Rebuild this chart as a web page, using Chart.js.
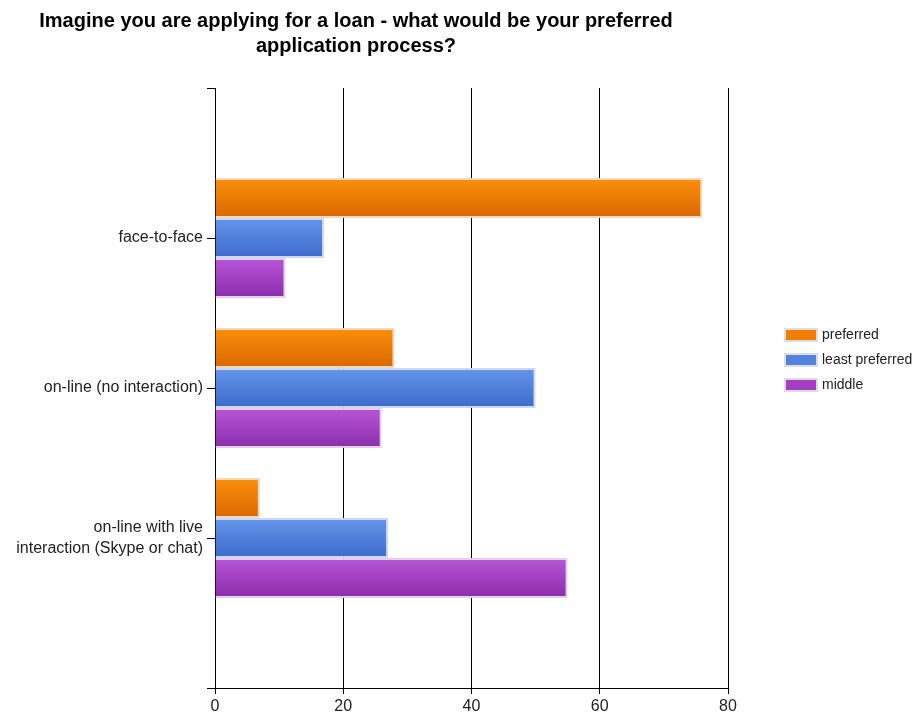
<!DOCTYPE html>
<html>
<head>
<meta charset="utf-8">
<title>Loan application process</title>
<script src="https://cdn.jsdelivr.net/npm/chart.js@4/dist/chart.umd.min.js"></script>
<style>
  html, body { margin: 0; padding: 0; background: #fff; }
  #wrap { width: 914px; height: 717px; }
</style>
</head>
<body>
<div id="wrap"><canvas id="myChart" width="914" height="717"></canvas></div>
<script>
// Preferred loan application process, survey answers per option

const titleLines = [
  "Imagine you are applying for a loan - what would be your preferred",
  "application process?",
];
const categories = [
  "face-to-face",
  "on-line (no interaction)",
  ["on-line with live", "interaction (Skype or chat)"],
];
const preferred = [76, 28, 7];
const leastPreferred = [17, 50, 27];
const middle = [11, 26, 55];
const xTicks = [0, 20, 40, 60, 80];

// empty slots above and below so the groups sit on quarter lines
const labels = [""].concat(categories, [""]);
const pad = (arr) => [null].concat(arr, [null]);

const FONT = "'Liberation Sans', Arial, sans-serif";

function vGradient(top, bottom) {
  return (context) => {
    const chart = context.chart;
    const el = context.element;
    if (!el || !chart.chartArea || el.y === undefined || !el.height) return top;
    const g = chart.ctx.createLinearGradient(0, el.y - el.height / 2, 0, el.y + el.height / 2);
    g.addColorStop(0, top);
    g.addColorStop(1, bottom);
    return g;
  };
}

const series = [
  { label: "preferred", data: preferred, top: "#fc8f0c", bottom: "#d96800", edge: "rgba(240,215,190,0.95)", swatch: "#f07e00" },
  { label: "least preferred", data: leastPreferred, top: "#6595eb", bottom: "#3c6bcc", edge: "rgba(205,215,235,0.95)", swatch: "#5282dd" },
  { label: "middle", data: middle, top: "#b855d8", bottom: "#8a2eab", edge: "rgba(225,205,232,0.95)", swatch: "#a43fc4" },
];

const datasets = series.map((s) => ({
  label: s.label,
  data: pad(s.data),
  backgroundColor: vGradient(s.top, s.bottom),
  borderColor: s.edge,
  borderWidth: 2,
  swatch: s.swatch,
  categoryPercentage: 0.8,
  barPercentage: 1.0,
}));

// title centred over the left part, the way the old chart had it
const titlePlugin = {
  id: "topTitle",
  afterDraw(chart) {
    const ctx = chart.ctx;
    ctx.save();
    ctx.fillStyle = "#000";
    ctx.font = "bold 20px " + FONT;
    ctx.textAlign = "center";
    ctx.textBaseline = "middle";
    titleLines.forEach((t, i) => ctx.fillText(t, 356, 21 + i * 25));
    ctx.restore();
  },
};

// legend to the right of the plot
const legendPlugin = {
  id: "sideLegend",
  afterDraw(chart) {
    const ctx = chart.ctx;
    ctx.save();
    ctx.font = "14px " + FONT;
    ctx.textBaseline = "middle";
    chart.data.datasets.forEach((ds, i) => {
      const y = 335 + i * 25;
      ctx.fillStyle = "#ddd";
      ctx.fillRect(784, y - 7, 34, 14);
      ctx.fillStyle = ds.swatch;
      ctx.fillRect(786, y - 5, 30, 10);
      ctx.fillStyle = "#222";
      ctx.fillText(ds.label, 822, y);
    });
    ctx.restore();
  },
};

const config = {
  type: "bar",
  data: { labels: labels, datasets: datasets },
  options: {
    indexAxis: "y",
    responsive: false,
    animation: false,
    layout: { padding: { top: 88, right: 186, left: 0, bottom: 0 } },
    plugins: {
      legend: { display: false },
      title: { display: false },
      tooltip: { enabled: false },
    },
    scales: {
      y: {
        offset: false,
        afterFit: (scale) => { scale.width = 215; },
        grid: {
          offset: false,
          drawOnChartArea: false,
          drawTicks: true,
          tickLength: 8,
          color: "#000",
        },
        border: { color: "#000", width: 1 },
        ticks: {
          autoSkip: false,
          color: "#222",
          padding: 4,
          font: { size: 16, family: FONT, lineHeight: 1.3 },
        },
      },
      x: {
        min: xTicks[0],
        max: xTicks[xTicks.length - 1],
        afterBuildTicks: (scale) => { scale.ticks = xTicks.map((v) => ({ value: v })); },
        afterFit: (scale) => { scale.height = 29; },
        grid: {
          drawOnChartArea: true,
          drawTicks: true,
          tickLength: 6,
          color: "#000",
        },
        border: { color: "#000", width: 1 },
        ticks: {
          color: "#222",
          padding: 3,
          font: { size: 16, family: FONT },
        },
      },
    },
  },
  plugins: [titlePlugin, legendPlugin],
};

const chart = new Chart(document.querySelector("#myChart"), config);
// second pass so the bar gradients can use the laid-out bar positions
chart.update("none");
</script>
</body>
</html>
